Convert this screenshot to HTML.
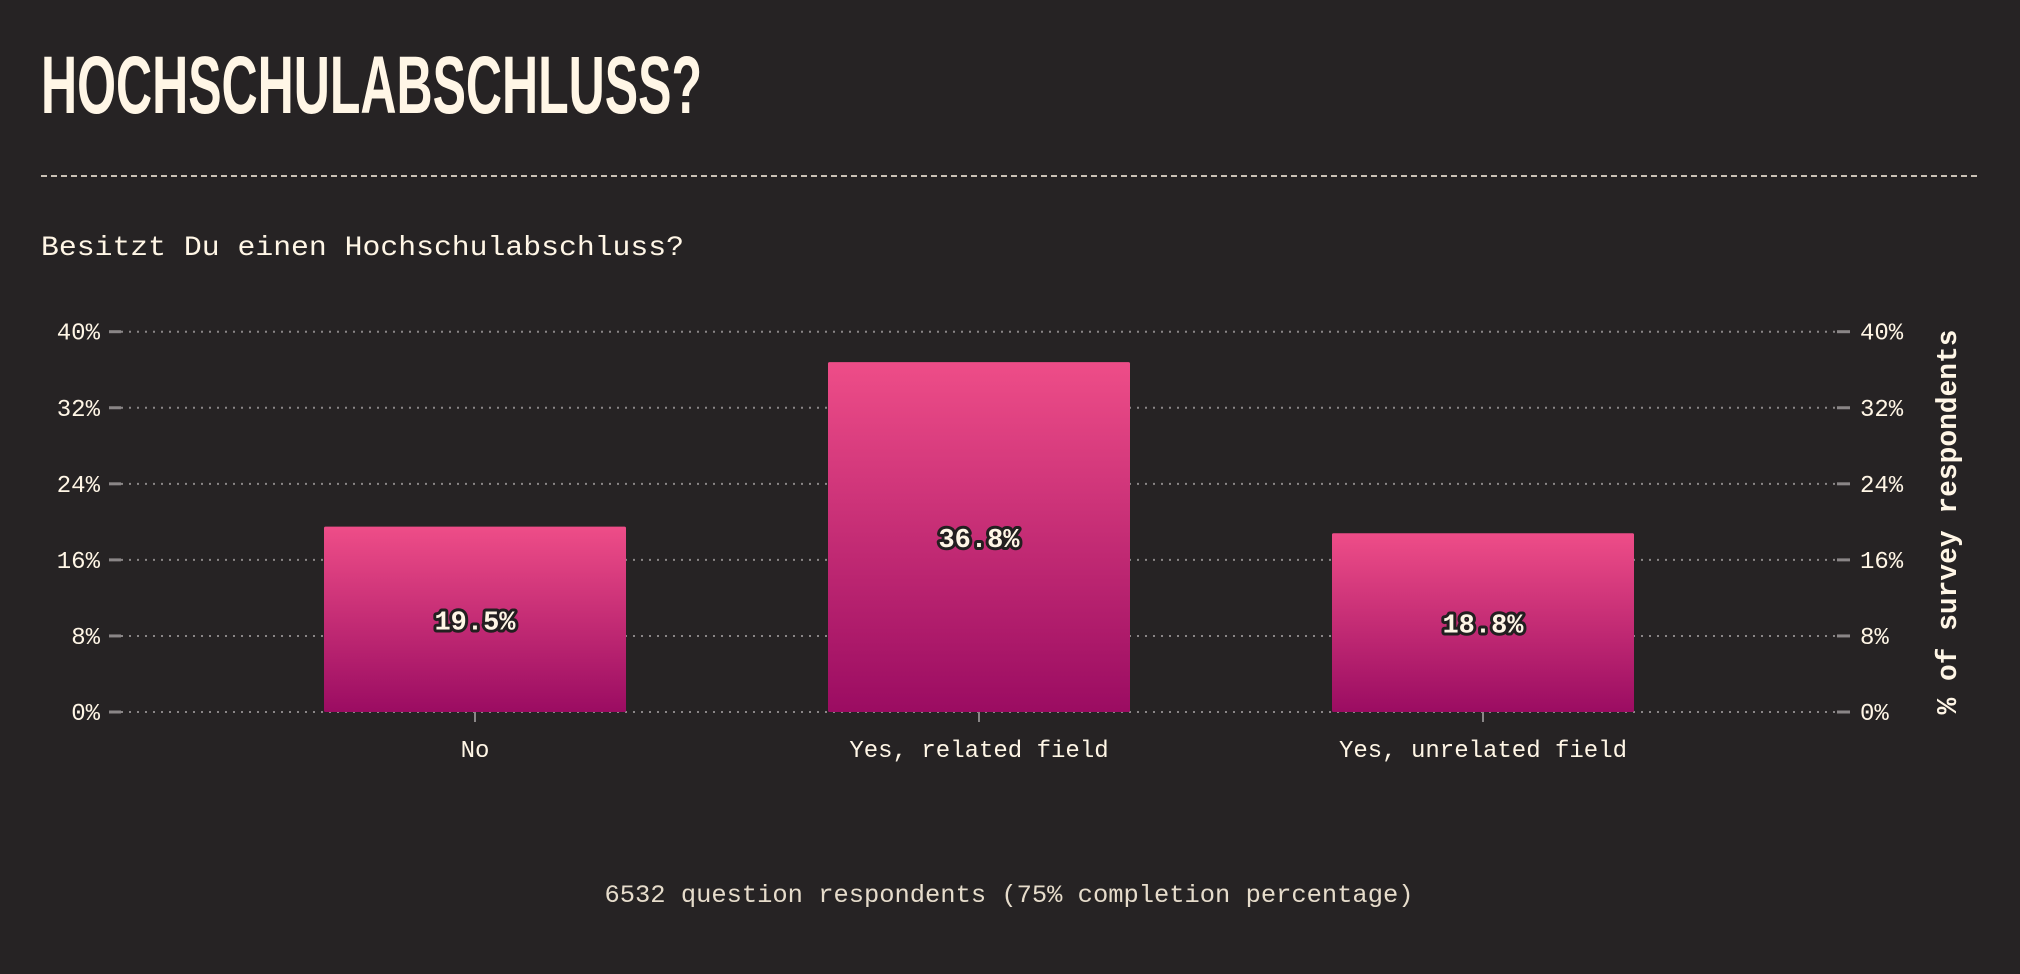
<!DOCTYPE html>
<html><head><meta charset="utf-8"><style>
html,body{margin:0;padding:0;background:#262324;}
svg{display:block}
</style></head><body>
<svg width="2020" height="974" viewBox="0 0 2020 974">
<defs>
<linearGradient id="barGrad" x1="0" y1="0" x2="0" y2="1">
<stop offset="0" stop-color="#ee4d88"/>
<stop offset="1" stop-color="#9b0c62"/>
</linearGradient>
</defs>
<rect width="2020" height="974" fill="#262324"/>
<text x="41" y="113" fill="#fff6e6" font-family="'Liberation Sans Narrow','Liberation Sans',sans-serif" font-weight="bold" font-size="82" textLength="661" lengthAdjust="spacingAndGlyphs">HOCHSCHULABSCHLUSS?</text>
<line x1="41" y1="176" x2="1980" y2="176" stroke="#fff6e6" stroke-width="1.5" stroke-dasharray="6,4"/>
<text x="41" y="255" fill="#fff6e6" font-family="'Liberation Mono',monospace" font-size="28" textLength="643" lengthAdjust="spacingAndGlyphs">Besitzt Du einen Hochschulabschluss?</text>
<g id="grid"></g>
<g id="bars"></g>
<text transform="translate(1956,522) rotate(-90)" text-anchor="middle" fill="#fff6e6" font-family="'Liberation Mono',monospace" font-weight="bold" font-size="29" textLength="385" lengthAdjust="spacingAndGlyphs">% of survey respondents</text>
<text x="1009" y="902" text-anchor="middle" fill="#e6dccb" font-family="'Liberation Mono',monospace" font-size="25" textLength="809" lengthAdjust="spacingAndGlyphs">6532 question respondents (75% completion percentage)</text>
</svg>
<script>
const categories = ["No", "Yes, related field", "Yes, unrelated field"];
const values = [19.5, 36.8, 18.8];
const valueLabels = ["19.5%", "36.8%", "18.8%"];
const yTicks = [0, 8, 16, 24, 32, 40];
const yTickLabels = ["0%", "8%", "16%", "24%", "32%", "40%"];

const NS = "http://www.w3.org/2000/svg";
const y0 = 712, y1 = 331.7, yMax = 40;
function yScale(v){ return y0 - (v / yMax) * (y0 - y1); }
const xStart = 223, step = 504, barW = 302;
function xCenter(i){ return xStart + step * i + step / 2; }
function mk(tag, attrs){ const e = document.createElementNS(NS, tag); for (const k in attrs) e.setAttribute(k, attrs[k]); return e; }

const grid = document.getElementById('grid');
yTicks.forEach((t, i) => {
  const y = yScale(t);
  const gl = mk('line', {x1:121, x2:1837, y1:y, y2:y, stroke:'#8a8687', 'stroke-width':2, 'stroke-dasharray':'2,6'});
  
  
  grid.appendChild(gl);
  const lt = mk('line', {x1:109, x2:121, y1:y, y2:y, stroke:'#8a8687', 'stroke-width':3});
  
  
  grid.appendChild(lt);
  const rt = mk('line', {x1:1837, x2:1850, y1:y, y2:y, stroke:'#8a8687', 'stroke-width':3});
  
  
  grid.appendChild(rt);
  const lbl = mk('text', {x:100, y:y + 8, 'text-anchor':'end', fill:'#fff6e6', 'font-family':"'Liberation Mono',monospace", 'font-size':24});
  lbl.textContent = yTickLabels[i];
  
  
  grid.appendChild(lbl);
  const rl = mk('text', {x:1860, y:y + 8, fill:'#fff6e6', 'font-family':"'Liberation Mono',monospace", 'font-size':24});
  rl.textContent = yTickLabels[i];
  
  
  grid.appendChild(rl);
});

const bars = document.getElementById('bars');
categories.forEach((c, i) => {
  const cx = xCenter(i);
  const top = yScale(values[i]);
  const r = mk('rect', {x:cx - barW/2, y:top, width:barW, height:y0 - top, fill:'url(#barGrad)', rx:1.5});
  
  
  bars.appendChild(r);
  const tk = mk('line', {x1:cx, x2:cx, y1:y0, y2:722, stroke:'#8a8687', 'stroke-width':2});
  
  
  bars.appendChild(tk);
  const xl = mk('text', {x:cx, y:757, 'text-anchor':'middle', fill:'#fff6e6', 'font-family':"'Liberation Mono',monospace", 'font-size':24});
  xl.textContent = c;
  
  
  bars.appendChild(xl);
  const vl = mk('text', {x:cx, y:(top + y0)/2 + 10, 'text-anchor':'middle', fill:'#fff6e6', stroke:'#231f20', 'stroke-width':6, 'paint-order':'stroke', 'stroke-linejoin':'round', 'font-family':"'Liberation Mono',monospace", 'font-weight':'bold', 'font-size':27});
  vl.textContent = valueLabels[i];
  
  
  bars.appendChild(vl);
});
</script>
</body></html>
